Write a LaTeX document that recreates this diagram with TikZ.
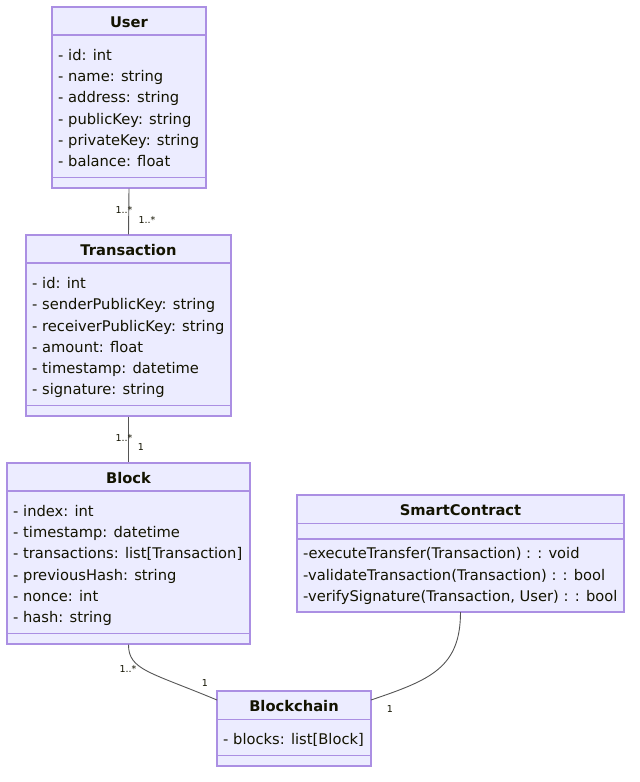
\documentclass[tikz,border=0pt]{standalone}
\usepackage{fontspec}
\setmainfont{DejaVu Sans}
\definecolor{boxfill}{HTML}{ECECFF}
\definecolor{boxdrawbase}{HTML}{9370DB}
\colorlet{boxdraw}{boxdrawbase!78!white}
\definecolor{edgecol}{HTML}{555555}
\definecolor{txtcol}{HTML}{131300}
\tikzset{
  umlbox/.style={draw=boxdraw, fill=boxfill, line width=1.2pt, inner sep=0pt, rectangle},
  divider/.style={draw=boxdraw, line width=1.2pt},
  title/.style={font=\fontsize{14.7}{17}\selectfont\bfseries, text=txtcol, anchor=base, inner sep=0pt},
  attr/.style={font=\fontsize{14.7}{17}\selectfont, text=txtcol, anchor=base west, inner sep=0pt},
  mult/.style={font=\fontsize{9.5}{11}\selectfont, text=txtcol, inner sep=0pt},
  edge/.style={draw=edgecol, line width=0.9pt}
}
\begin{document}
\begin{tikzpicture}[x=1pt,y=-1pt]
\useasboundingbox[fill=white] (0,0) rectangle (640,782);

% User
\node[umlbox, minimum width=154pt, minimum height=181pt] (user) at (129,97.5) {};
\draw[divider] (52,35) -- (206,35);
\draw[divider] (52,177.5) -- (206,177.5);
\node[title] (userT) at (129,27) {User};
\node[attr] (u1) at (58,60) {- id: int};
\node[attr] (u2) at (58,81) {- name: string};
\node[attr] (u3) at (58,102) {- address: string};
\node[attr] (u4) at (58,124) {- publicKey: string};
\node[attr] (u5) at (58,145) {- privateKey: string};
\node[attr] (u6) at (58,166) {- balance: float};

% Transaction
\node[umlbox, minimum width=205pt, minimum height=181pt] (trans) at (128.5,325.5) {};
\draw[divider] (26,263) -- (231,263);
\draw[divider] (26,405.5) -- (231,405.5);
\node[title] (transT) at (128.5,255) {Transaction};
\node[attr] (t1) at (32,288) {- id: int};
\node[attr] (t2) at (32,309) {- senderPublicKey: string};
\node[attr] (t3) at (32,331) {- receiverPublicKey: string};
\node[attr] (t4) at (32,352) {- amount: float};
\node[attr] (t5) at (32,373) {- timestamp: datetime};
\node[attr] (t6) at (32,394) {- signature: string};

% Block
\node[umlbox, minimum width=243pt, minimum height=181pt] (block) at (128.5,553.5) {};
\draw[divider] (7,491) -- (250,491);
\draw[divider] (7,633.5) -- (250,633.5);
\node[title] (blockT) at (128.5,483) {Block};
\node[attr] (b1) at (13,516) {- index: int};
\node[attr] (b2) at (13,537) {- timestamp: datetime};
\node[attr] (b3) at (13,558) {- transactions: list[Transaction]};
\node[attr] (b4) at (13,580) {- previousHash: string};
\node[attr] (b5) at (13,601) {- nonce: int};
\node[attr] (b6) at (13,622) {- hash: string};

% SmartContract
\node[umlbox, minimum width=327pt, minimum height=117pt] (smart) at (460.5,553.5) {};
\draw[divider] (297,523.3) -- (624,523.3);
\draw[divider] (297,539) -- (624,539);
\node[title] (smartT) at (460.5,515) {SmartContract};
\node[attr] (s1) at (303,558) {-executeTransfer(Transaction) : : void};
\node[attr] (s2) at (303,580) {-validateTransaction(Transaction) : : bool};
\node[attr] (s3) at (303,601) {-verifySignature(Transaction, User) : : bool};

% Blockchain
\node[umlbox, minimum width=154pt, minimum height=75pt] (chain) at (294,728.5) {};
\draw[divider] (217,719.5) -- (371,719.5);
\draw[divider] (217,755.5) -- (371,755.5);
\node[title] (chainT) at (294,711) {Blockchain};
\node[attr] (c1) at (223,744) {- blocks: list[Block]};

% Connectors
\coordinate (chainL) at (217,700);
\coordinate (chainR) at (371,700);
\coordinate (smartB) at (460.5,612);
\draw[edge] (user.south) -- (trans.north);
\draw[edge] (trans.south) -- (block.north);
\draw[edge] (block.south) .. controls (128.5,670) and (150,672) .. (chainL);
\draw[edge] (smartB) .. controls (460.5,668) and (430,680) .. (chainR);

% Multiplicities
\node[mult] (m1) at (124,210) {1..*};
\node[mult] (m2) at (147,220) {1..*};
\node[mult] (m3) at (124,438) {1..*};
\node[mult] (m4) at (141,447) {1};
\node[mult] (m5) at (128,669) {1..*};
\node[mult] (m6) at (205,683) {1};
\node[mult] (m7) at (390,709) {1};
\end{tikzpicture}
\end{document}
